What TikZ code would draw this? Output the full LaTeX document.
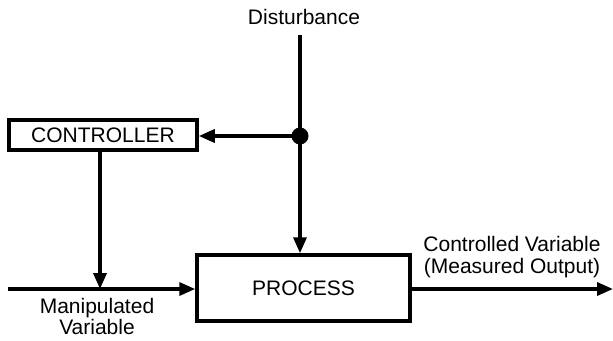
\documentclass[tikz,border=0pt]{standalone}
\usepackage{fontspec}
\setmainfont{Liberation Sans}
\usetikzlibrary{arrows.meta, positioning}

\begin{document}
\begin{tikzpicture}[x=1pt,y=-1pt,
                    box/.style={draw,line width=3.5pt,inner sep=0pt,
                    font=\fontsize{21}{24}\selectfont},
                    lbl/.style={align=center,inner sep=0pt,
                    font=\fontsize{21}{21.5}\selectfont},
                    arr/.style={-{Triangle[length=16pt,width=13pt]},line width=3.5pt}
]
\useasboundingbox (0,0) rectangle (613,340);
\node[lbl] (dist) at (304,17) {Disturbance};
\node[box,minimum width=188pt,minimum height=30pt] (ctrl) at (103,135) {CONTROLLER};
\node[box,minimum width=213pt,minimum height=66pt] (proc) at (303.5,288) {PROCESS};
\coordinate (top) at (300,35);
\coordinate (jn) at (300,136);
\coordinate (in) at (8,289);
\coordinate (mv) at (100,289);
\coordinate (out) at (613,289);
\node[lbl] (mvl) at (97,316.5) {Manipulated\\Variable};
\node[lbl] (cvl) at (512,257) {Controlled Variable\\(Measured Output)};
\draw[line width=3.5pt] (top)--(jn);
\draw[arr] (jn)--(jn |- proc.north);
\draw[arr] (jn)--(ctrl.east |- jn);
\fill (jn) circle (8.5pt);
\draw[arr] (ctrl.south -| mv)--(mv);
\draw[arr] (in)--(in -| proc.west);
\draw[arr] (out -| proc.east)--(out);
\end{tikzpicture}
\end{document}
